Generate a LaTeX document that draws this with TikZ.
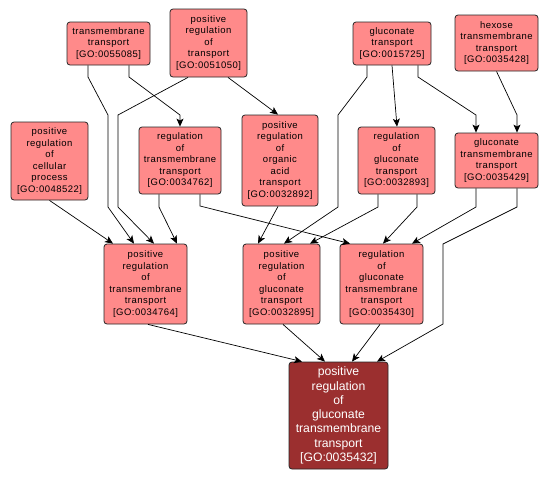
\documentclass[tikz,border=0pt]{standalone}
\usepackage{fontspec}
\setmainfont{Liberation Sans}
\usetikzlibrary{arrows.meta}
\definecolor{lightnode}{HTML}{FF8A8A}
\definecolor{darknode}{HTML}{9B2F2F}
\begin{document}
\begin{tikzpicture}[x=1pt,y=-1pt,
  term/.style={draw=black!85, line width=0.8pt, rounded corners=3pt, fill=lightnode,
    inner sep=0pt, align=center,
    font=\addfontfeature{LetterSpace=5}\fontsize{9.5}{11.5}\selectfont},
  focus/.style={draw=black!85, line width=0.8pt, rounded corners=3pt, fill=darknode,
    inner sep=0pt, align=center, text=white,
    font=\fontsize{12.2}{14.3}\selectfont},
  edge/.style={draw=black, line width=0.7pt, -{Stealth[length=8pt,width=7pt,inset=2pt]}}]
\useasboundingbox (0,0) rectangle (551,480);
\fill[white] (0,0) rectangle (551,480);

\node[term, minimum width=83, minimum height=43] (A) at (108.5,43.5) {transmembrane\\transport\\{[GO:0055085]}};
\node[term, minimum width=77, minimum height=68] (B) at (208.5,43) {positive\\regulation\\of\\transport\\{[GO:0051050]}};
\node[term, minimum width=77, minimum height=78] (C) at (49.5,161) {positive\\regulation\\of\\cellular\\process\\{[GO:0048522]}};
\node[term, minimum width=82, minimum height=67] (D) at (180,160.5) {regulation\\of\\transmembrane\\transport\\{[GO:0034762]}};
\node[term, minimum width=76, minimum height=91] (E) at (280,160.5) {positive\\regulation\\of\\organic\\acid\\transport\\{[GO:0032892]}};
\node[term, minimum width=78, minimum height=43] (F) at (392,43.5) {gluconate\\transport\\{[GO:0015725]}};
\node[term, minimum width=83, minimum height=56] (G) at (496.5,43) {hexose\\transmembrane\\transport\\{[GO:0035428]}};
\node[term, minimum width=77, minimum height=67] (H) at (396.5,160.5) {regulation\\of\\gluconate\\transport\\{[GO:0032893]}};
\node[term, minimum width=83, minimum height=55] (I) at (496.5,160.5) {gluconate\\transmembrane\\transport\\{[GO:0035429]}};
\node[term, minimum width=83, minimum height=80] (J) at (145.5,284) {positive\\regulation\\of\\transmembrane\\transport\\{[GO:0034764]}};
\node[term, minimum width=77, minimum height=80] (K) at (281.5,284) {positive\\regulation\\of\\gluconate\\transport\\{[GO:0032895]}};
\node[term, minimum width=83, minimum height=80] (L) at (381.5,284) {regulation\\of\\gluconate\\transmembrane\\transport\\{[GO:0035430]}};
\node[focus, minimum width=99, minimum height=107] (M) at (338.5,415.5) {positive\\regulation\\of\\gluconate\\transmembrane\\transport\\{[GO:0035432]}};

% edges
\draw[edge] ([xshift=-20.5]A.south) -- (88,77) -- (108,115) -- (108,207) -- ([xshift=-11.5]J.north);
\draw[edge] ([xshift=-20.5]B.south) -- (118,115) -- (118,207) -- ([xshift=8.5]J.north);
\draw[edge] (C.south) -- ([xshift=-32.5]J.north);
\draw[edge] ([xshift=-21]D.south) -- (159,207) -- ([xshift=31.5]J.north);
\draw[edge] ([xshift=20.5]A.south) -- (129,77) -- (180,115) -- (D.north);
\draw[edge] ([xshift=19.5]B.south) -- ([xshift=-2]E.north);
\draw[edge] ([xshift=20]D.south) -- (200,206) -- ([xshift=-31.5]L.north);
\draw[edge] ([xshift=-2]E.south) -- ([xshift=-23.5]K.north);
\draw[edge] ([xshift=-25]F.south) -- (367,77) -- (338,115) -- (338,207) -- ([xshift=2.5]K.north);
\draw[edge] (F.south) -- ([xshift=0.5]H.north);
\draw[edge] ([xshift=26]F.south) -- (418,77) -- (476,115) -- ([xshift=-20.5]I.north);
\draw[edge] (G.south) -- (517,115) -- ([xshift=20.5]I.north);
\draw[edge] ([xshift=-18.5]H.south) -- (378,207) -- ([xshift=28.5]K.north);
\draw[edge] ([xshift=20.5]H.south) -- (417,207) -- ([xshift=1.5]L.north);
\draw[edge] ([xshift=-20.5]I.south) -- (476,207) -- ([xshift=30.5]L.north);
\draw[edge] ([xshift=20.5]I.south) -- (517,207) -- (443,244) -- (443,324) -- ([xshift=38.5]M.north);
\draw[edge] ([xshift=2.5]J.south) -- ([xshift=-36.5]M.north);
\draw[edge] ([xshift=1.5]K.south) -- ([xshift=-13.5]M.north);
\draw[edge] ([xshift=-1.5]L.south) -- ([xshift=13.5]M.north);
\end{tikzpicture}
\end{document}
